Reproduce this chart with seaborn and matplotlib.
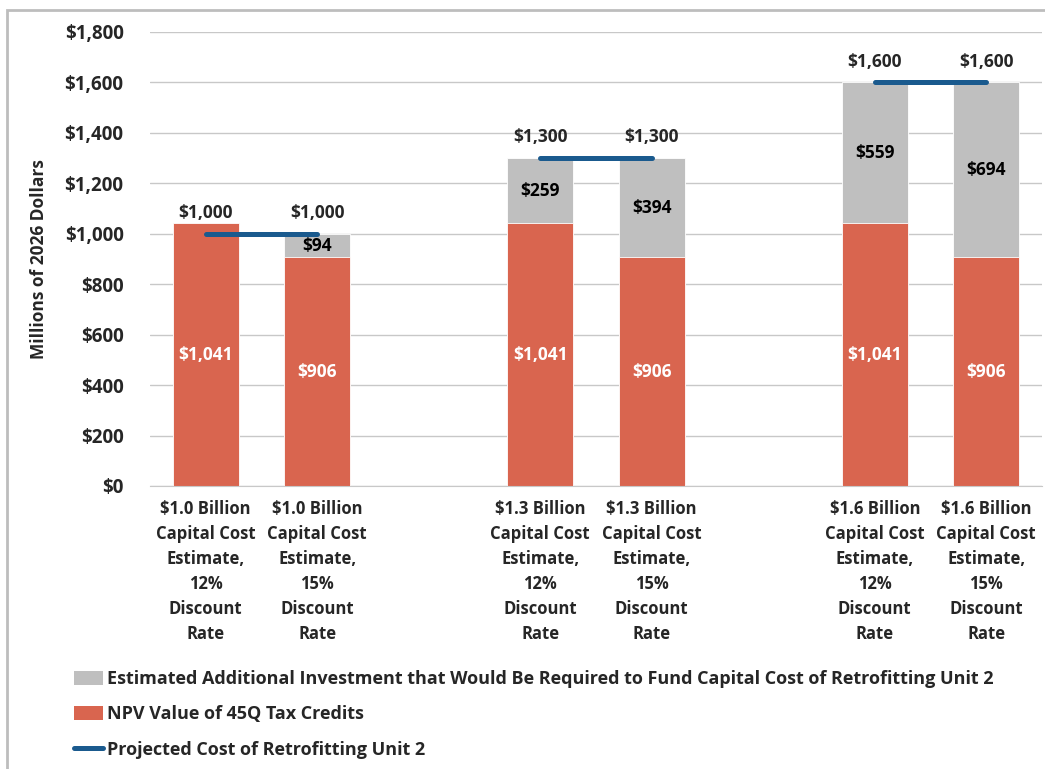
import numpy as np
import pandas as pd
import matplotlib
matplotlib.use('Agg')
import matplotlib.pyplot as plt
from matplotlib.patches import Patch, Rectangle
from matplotlib.lines import Line2D
import seaborn as sns

sns.set_style('white')
plt.rcParams['font.family'] = ['Open Sans', 'DejaVu Sans']
plt.rcParams['font.weight'] = 'bold'
plt.rcParams['axes.labelweight'] = 'bold'

red = '#D9654F'
gray = '#BFBFBF'
blue = '#1A5A8E'

# data
labels = ['$1.0 Billion\nCapital Cost\nEstimate,\n12%\nDiscount\nRate',
          '$1.0 Billion\nCapital Cost\nEstimate,\n15%\nDiscount\nRate',
          '$1.3 Billion\nCapital Cost\nEstimate,\n12%\nDiscount\nRate',
          '$1.3 Billion\nCapital Cost\nEstimate,\n15%\nDiscount\nRate',
          '$1.6 Billion\nCapital Cost\nEstimate,\n12%\nDiscount\nRate',
          '$1.6 Billion\nCapital Cost\nEstimate,\n15%\nDiscount\nRate']
npv = [1041, 906, 1041, 906, 1041, 906]
extra = [0, 94, 259, 394, 559, 694]
cost = [1000, 1000, 1300, 1300, 1600, 1600]
order = [labels[0], labels[1], ' ', labels[2], labels[3], '  ', labels[4], labels[5]]

df = pd.DataFrame({'label': labels, 'npv': npv, 'extra': extra, 'cost': cost})
df['top'] = df['npv'] + df['extra']

fig = plt.figure(figsize=(10.45, 7.69), dpi=100)
ax = fig.add_axes([150 / 1045, 1 - 486 / 769, 892 / 1045, 454 / 769])

sns.barplot(data=df, x='label', y='top', order=order, color=gray, width=0.59,
            saturation=1, edgecolor='white', linewidth=0.6, ax=ax)
sns.barplot(data=df, x='label', y='npv', order=order, color=red, width=0.59,
            saturation=1, edgecolor='white', linewidth=0.6, ax=ax)

# projected cost line, one segment per group
for i in range(0, 6, 2):
    xs = [order.index(labels[i]), order.index(labels[i + 1])]
    ax.plot(xs, [cost[i], cost[i + 1]], color=blue, lw=3.6, solid_capstyle='round', zorder=5)

fs = 12.5
for i, row in df.iterrows():
    x = order.index(row['label'])
    ax.text(x, row['npv'] / 2, f"${row['npv']:,}", color='white', ha='center', va='center',
            fontsize=fs, fontweight='bold')
    if row['extra'] > 0:
        ax.text(x, row['npv'] + row['extra'] / 2, f"${row['extra']:,}", color='black',
                ha='center', va='center', fontsize=fs, fontweight='bold')
    ax.annotate(f"${row['cost']:,}", (x, row['cost']), xytext=(0, 15), textcoords='offset points',
                ha='center', va='center', fontsize=fs, fontweight='bold')

ax.set_ylim(0, 1800)
ax.set_xlim(-0.5, 7.5)
ax.set_yticks(range(0, 1801, 200))
ax.set_yticklabels([f"${v:,}" for v in range(0, 1801, 200)], fontsize=13.5, fontweight='bold')
ax.set_xticks(range(len(order)))
ax.set_xticklabels(order, fontsize=12, fontweight='bold', linespacing=1.5)
ax.tick_params(axis='y', length=0, pad=19)
ax.tick_params(axis='x', length=0, pad=10)
ax.yaxis.grid(True, color='#C8C8C8', lw=1)
ax.set_axisbelow(True)
for s in ['top', 'right', 'left']:
    ax.spines[s].set_visible(False)
ax.spines['bottom'].set_color('#C8C8C8')
ax.set_xlabel('')
ax.set_ylabel('Millions of 2026 Dollars', fontsize=12.5, fontweight='bold', labelpad=12)

handles = [Patch(facecolor=gray, edgecolor='none'),
           Patch(facecolor=red, edgecolor='none'),
           Line2D([], [], color=blue, lw=3.6, solid_capstyle='round')]
names = ['Estimated Additional Investment that Would Be Required to Fund Capital Cost of Retrofitting Unit 2',
         'NPV Value of 45Q Tax Credits',
         'Projected Cost of Retrofitting Unit 2']
fig.legend(handles, names, loc='upper left', bbox_to_anchor=(58 / 1045, 1 - 654 / 769),
           frameon=False, prop={'size': 13, 'weight': 'bold'}, handlelength=1.6, handleheight=0.8,
           handletextpad=0.2, labelspacing=0.95)

fig.patches.append(Rectangle((7 / 1045, -0.1), 1.2, 1 - 10 / 769 + 0.1, transform=fig.transFigure,
                             fill=False, edgecolor='#BDBDBD', lw=2))

fig.savefig('out.png', dpi=100)
